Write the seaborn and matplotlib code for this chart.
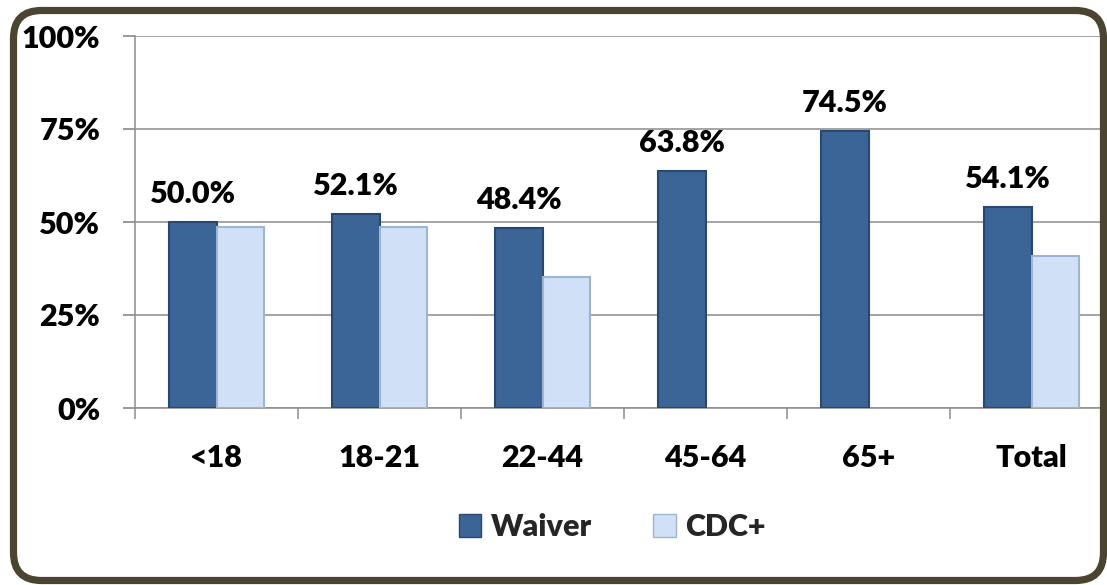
import matplotlib
matplotlib.use("Agg")
import matplotlib.pyplot as plt
import matplotlib.transforms as mtransforms
from matplotlib.patches import FancyBboxPatch, Patch
import numpy as np
import pandas as pd
import seaborn as sns

categories = ["<18", "18-21", "22-44", "45-64", "65+", "Total"]
waiver = [50.0, 52.1, 48.4, 63.8, 74.5, 54.1]
cdc_plus = [48.7, 48.7, 35.3, np.nan, np.nan, 40.8]
series = ["Waiver", "CDC+"]
yticks = [0, 25, 50, 75, 100]
ytick_labels = ["0%", "25%", "50%", "75%", "100%"]

colors = {"Waiver": "#3B6497", "CDC+": "#D0E1F7"}
edges = {"Waiver": "#274873", "CDC+": "#9DB4D3"}

df = pd.DataFrame({
    "Age": categories * 2,
    "Series": ["Waiver"] * len(categories) + ["CDC+"] * len(categories),
    "Value": waiver + cdc_plus,
})

sns.set_theme(style="white")
plt.rcParams["font.family"] = ["Lato", "DejaVu Sans"]
WEIGHT = "heavy"
plt.rcParams["font.weight"] = WEIGHT

W, H = 1107, 585
fig = plt.figure(figsize=(W / 100, H / 100), dpi=100)
fig.patch.set_facecolor("white")

x0, x1 = 135, 1113
y0, y1 = 408, 36
ax = fig.add_axes([x0 / W, (H - y0) / H, (x1 - x0) / W, (y0 - y1) / H])

sns.barplot(data=df, x="Age", y="Value", hue="Series", order=categories,
            hue_order=series, palette=colors, width=0.58, ax=ax, saturation=1,
            errorbar=None, legend=False, zorder=3)

for container, name in zip(ax.containers, series):
    for bar in container:
        bar.set_edgecolor(edges[name])
        bar.set_linewidth(1.5)

# value labels above Waiver bars
for bar, v in zip(ax.containers[0], waiver):
    ax.annotate(f"{v:.1f}%", (bar.get_x() + bar.get_width() / 2, bar.get_height()),
                xytext=(0, 10), textcoords="offset points", ha="center", va="bottom",
                fontsize=22, fontweight=WEIGHT, color="black")

ax.set_xlim(-0.5, 5.5)
ax.set_ylim(0, 100)
ax.set_yticks(yticks)
ax.set_yticklabels(ytick_labels)
ax.set_xlabel("")
ax.set_ylabel("")

grid_c = "#8C8C8C"
ax.yaxis.grid(True, color=grid_c, linewidth=1.1, zorder=0)
ax.set_axisbelow(True)
for s in ["top", "right"]:
    ax.spines[s].set_visible(False)
for s in ["left", "bottom"]:
    ax.spines[s].set_visible(True)
    ax.spines[s].set_color(grid_c)
    ax.spines[s].set_linewidth(1.1)

ax.tick_params(axis="y", which="major", length=9, color=grid_c, direction="out",
               pad=16, labelsize=22, left=True, labelcolor="black")
ax.tick_params(axis="x", which="major", length=0, pad=26, labelsize=22,
               labelcolor="black")
ax.set_xticks(np.arange(-0.5, 6.0, 1.0), minor=True)
ax.tick_params(axis="x", which="minor", length=8, color=grid_c, direction="out",
               bottom=True, width=1.1)
for lbl in ax.get_xticklabels() + ax.get_yticklabels():
    lbl.set_fontweight(WEIGHT)

# legend
handles = [Patch(facecolor=colors[s], edgecolor=edges[s], label=s) for s in series]
fig.legend(handles=handles, loc="center", bbox_to_anchor=(612 / W, 1 - 527 / H),
           ncol=2, frameon=False, prop={"size": 22, "weight": WEIGHT},
           handlelength=0.75, handleheight=0.75, handletextpad=0.3, columnspacing=2.0)

# rounded frame
frame = FancyBboxPatch((13.5, 4.5), 1090, 570,
                       boxstyle="round,pad=0,rounding_size=28",
                       transform=mtransforms.IdentityTransform(),
                       facecolor="none", edgecolor="#4B4430", linewidth=5.2,
                       zorder=10)
fig.add_artist(frame)

fig.savefig("out.png", dpi=100, facecolor="white")
